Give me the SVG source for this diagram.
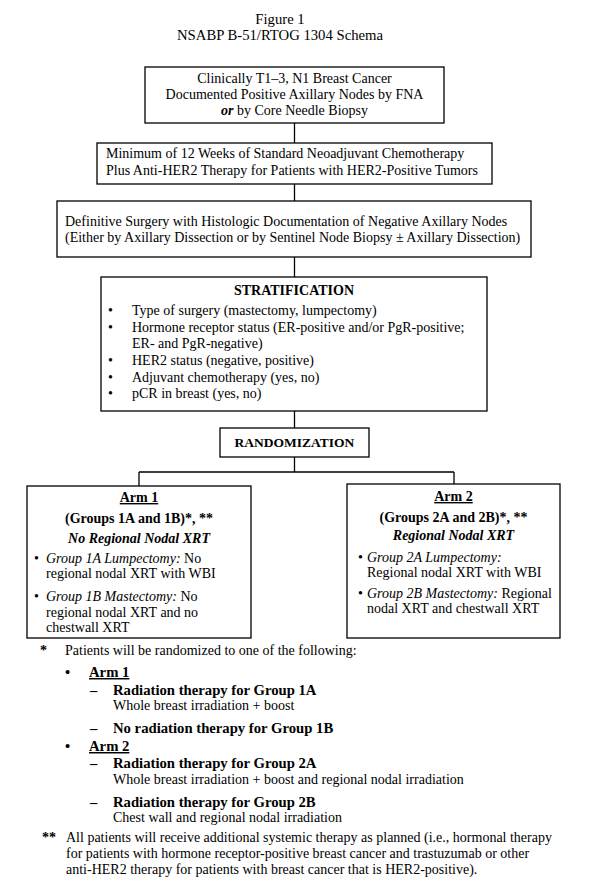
<svg xmlns="http://www.w3.org/2000/svg" width="591" height="891" viewBox="0 0 591 891">
<style>
text{font-family:"Liberation Serif","Times New Roman",serif;font-size:14px;fill:#000}
.t{font-size:14.7px}
.c{text-anchor:middle}
.b{font-weight:bold}
.fb{font-weight:bold;font-size:14.7px}
.i{font-style:italic}
.u{text-decoration:underline}
.r{font-size:13.5px}
.box{fill:#fff;stroke:#000;stroke-width:1.3}
.ln{fill:none;stroke:#000;stroke-width:1.3}
</style>
<rect width="591" height="891" fill="#fff"/>
<g id="title">
<text class="c t" x="280" y="24">Figure 1</text>
<text class="c t" x="280" y="40">NSABP B-51/RTOG 1304 Schema</text>
</g>
<g id="connectors">
<path class="ln" d="M294.5 123V143M294.5 184V201M294.5 257V277M294.5 411V428M294.5 457V472M139 472H454M139 472V486M454 472V484"/>
</g>
<g id="n1">
<rect class="box" x="145" y="67" width="299" height="56"/>
<text class="c" x="294.5" y="83">Clinically T1–3, N1 Breast Cancer</text>
<text class="c" x="294.5" y="99">Documented Positive Axillary Nodes by FNA</text>
<text class="c" x="294.5" y="115"><tspan class="b i">or</tspan> by Core Needle Biopsy</text>
</g>
<g id="n2">
<rect class="box" x="97" y="143" width="395" height="41"/>
<text x="106" y="158">Minimum of 12 Weeks of Standard Neoadjuvant Chemotherapy</text>
<text x="106" y="175">Plus Anti-HER2 Therapy for Patients with HER2-Positive Tumors</text>
</g>
<g id="n3">
<rect class="box" x="57" y="201" width="474" height="56"/>
<text x="65" y="226">Definitive Surgery with Histologic Documentation of Negative Axillary Nodes</text>
<text x="65" y="242">(Either by Axillary Dissection or by Sentinel Node Biopsy ± Axillary Dissection)</text>
</g>
<g id="stratification">
<rect class="box" x="101" y="277" width="386" height="134"/>
<text class="c b" x="294" y="295">STRATIFICATION</text>
<text x="108" y="315">•</text><text x="132" y="315">Type of surgery (mastectomy, lumpectomy)</text>
<text x="108" y="332">•</text><text x="132" y="332">Hormone receptor status (ER-positive and/or PgR-positive;</text>
<text x="132" y="348">ER- and PgR-negative)</text>
<text x="108" y="365">•</text><text x="132" y="365">HER2 status (negative, positive)</text>
<text x="108" y="382">•</text><text x="132" y="382">Adjuvant chemotherapy (yes, no)</text>
<text x="108" y="398">•</text><text x="132" y="398">pCR in breast (yes, no)</text>
</g>
<g id="randomization">
<rect class="box" x="220" y="428" width="149" height="29"/>
<text class="c b r" x="294.5" y="447">RANDOMIZATION</text>
</g>
<g id="arm1">
<rect class="box" x="27" y="486" width="224" height="152"/>
<text class="c b u" x="139" y="502">Arm 1</text>
<text class="c b" x="139" y="523">(Groups 1A and 1B)*, **</text>
<text class="c b i" x="139" y="543">No Regional Nodal XRT</text>
<text x="34" y="563">•</text><text x="46" y="563"><tspan class="i">Group 1A Lumpectomy:</tspan> No</text>
<text x="46" y="578">regional nodal XRT with WBI</text>
<text x="34" y="601">•</text><text x="46" y="601"><tspan class="i">Group 1B Mastectomy:</tspan> No</text>
<text x="46" y="617">regional nodal XRT and no</text>
<text x="46" y="632">chestwall XRT</text>
</g>
<g id="arm2">
<rect class="box" x="347" y="484" width="213" height="154"/>
<text class="c b u" x="453.5" y="501">Arm 2</text>
<text class="c b" x="453.5" y="522">(Groups 2A and 2B)*, **</text>
<text class="c b i" x="453.5" y="540">Regional Nodal XRT</text>
<text x="358" y="562">•</text><text x="367" y="562" class="i">Group 2A Lumpectomy:</text>
<text x="367" y="577">Regional nodal XRT with WBI</text>
<text x="358" y="598">•</text><text x="367" y="598"><tspan class="i">Group 2B Mastectomy:</tspan> Regional</text>
<text x="367" y="613">nodal XRT and chestwall XRT</text>
</g>
<g id="footnotes">
<text class="b" x="40" y="655">*</text>
<text x="65" y="655">Patients will be randomized to one of the following:</text>
<text class="fb" x="65" y="677">•</text><text class="fb u" x="89" y="677">Arm 1</text>
<text class="fb" x="90" y="695">–</text><text class="fb" x="113" y="695">Radiation therapy for Group 1A</text>
<text x="113" y="710">Whole breast irradiation + boost</text>
<text class="fb" x="90" y="733">–</text><text class="fb" x="113" y="733">No radiation therapy for Group 1B</text>
<text class="fb" x="65" y="751">•</text><text class="fb u" x="89" y="751">Arm 2</text>
<text class="fb" x="90" y="768">–</text><text class="fb" x="113" y="768">Radiation therapy for Group 2A</text>
<text x="113" y="784">Whole breast irradiation + boost and regional nodal irradiation</text>
<text class="fb" x="90" y="807">–</text><text class="fb" x="113" y="807">Radiation therapy for Group 2B</text>
<text x="113" y="822">Chest wall and regional nodal irradiation</text>
<text class="b" x="42" y="842">**</text>
<text x="66" y="842">All patients will receive additional systemic therapy as planned (i.e., hormonal therapy</text>
<text x="66" y="858">for patients with hormone receptor-positive breast cancer and trastuzumab or other</text>
<text x="66" y="874">anti-HER2 therapy for patients with breast cancer that is HER2-positive).</text>
</g>
</svg>
